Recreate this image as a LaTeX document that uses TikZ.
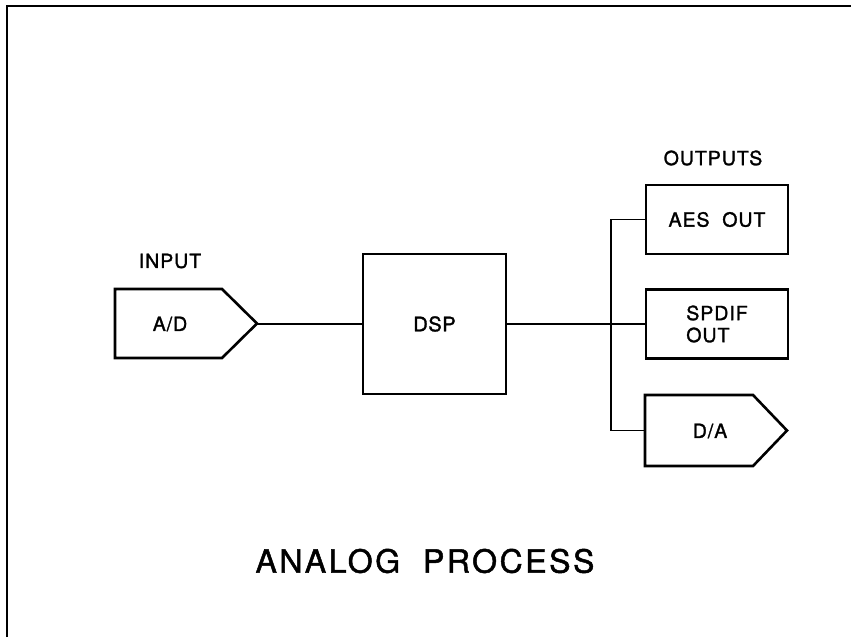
\documentclass[tikz,border=0pt]{standalone}
\usepackage{fontspec}
\setmainfont{TeX Gyre Heros}[FakeBold=1.5]
\begin{document}
\begin{tikzpicture}[x=1pt,y=-1pt,
  box/.style={draw, line width=2.6pt, line join=miter, inner sep=0pt},
  wire/.style={line width=1.2pt},
  frameline/.style={line width=1.8pt},
  lbl/.style={font=\fontsize{19.5}{22}\selectfont\addfontfeature{LetterSpace=5}, inner sep=0pt, align=left},
  bigl/.style={font=\fontsize{20}{22}\selectfont\addfontfeature{LetterSpace=3}, inner sep=0pt},
  ttlstyle/.style={font=\fontsize{32}{36}\selectfont\addfontfeature{LetterSpace=8}, inner sep=0pt}
]
\useasboundingbox (0,0) rectangle (851,637);
% frame
\draw[frameline] (7,637) -- (7,6) -- (851,6);

% A/D input
\draw[box] (115,289) -- (222,289) -- (257,323.5) -- (222,358) -- (115,358) -- cycle;
\coordinate (adtip) at (257,324);
\node[lbl] (ad) at (170,324) {A/D};
\node[lbl] (input) at (170,261) {INPUT};

% DSP
\node[box, minimum width=143pt, minimum height=140pt, bigl] (dsp) at (434.5,324) {DSP};

% outputs
\node[lbl] (outputs) at (713,158) {OUTPUTS};
\node[box, minimum width=142pt, minimum height=69pt, lbl] (aes) at (717,219.5) {AES\ \ OUT};
\node[box, minimum width=142pt, minimum height=69pt, lbl, align=left] (spdif) at (717,324) {SPDIF\\OUT};
\draw[box] (645,395) -- (753,395) -- (787,430.5) -- (753,466) -- (645,466) -- cycle;
\coordinate (dain) at (645,430.5);
\node[lbl] (da) at (710,431) {D/A};

% connectors
\coordinate (bus) at (611,324);
\draw[wire] (adtip) -- (dsp.west);
\draw[wire] (dsp.east) -- (spdif.west);
\draw[wire] (aes.west) -| (bus) |- (dain);

% title
\node[ttlstyle] (ttl) at (425,561) {ANALOG\ \ PROCESS};
\end{tikzpicture}
\end{document}
